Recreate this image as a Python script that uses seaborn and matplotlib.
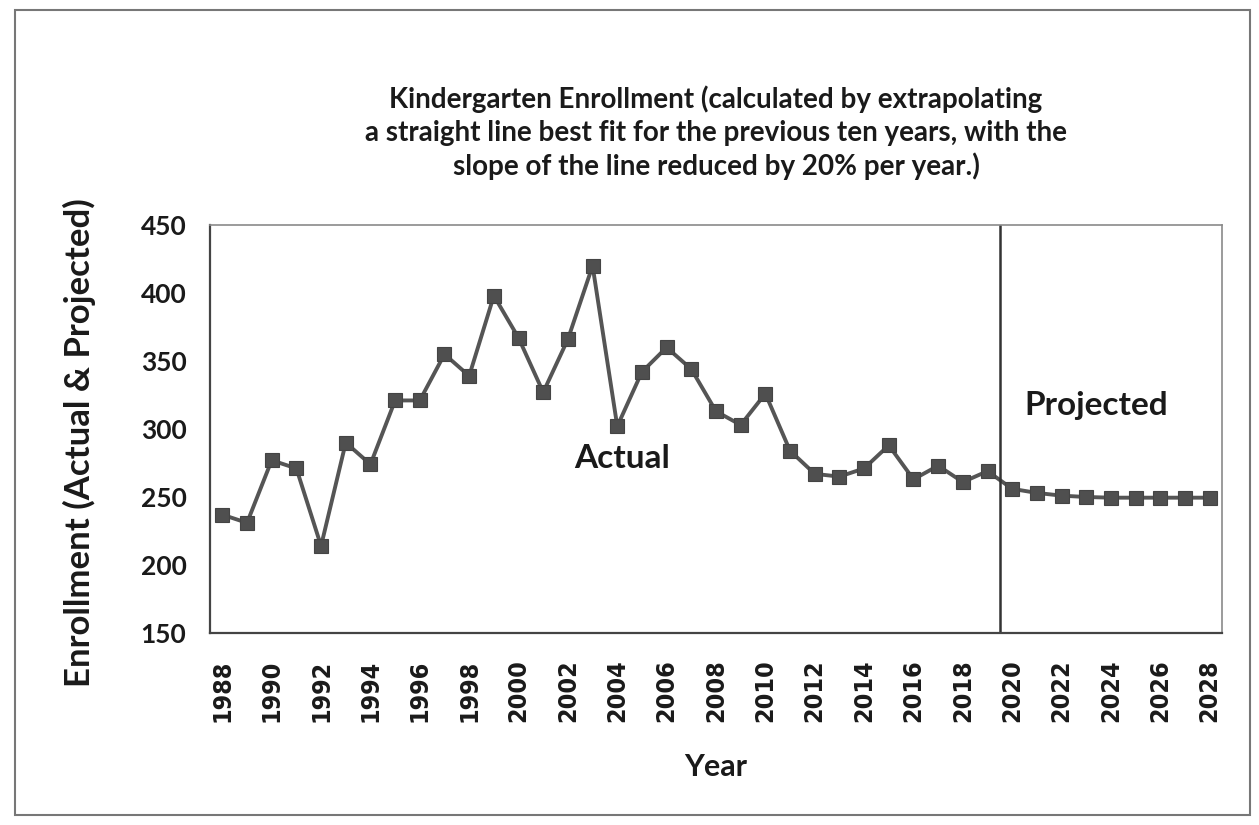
import numpy as np
import pandas as pd
import matplotlib
matplotlib.use("Agg")
import matplotlib.pyplot as plt
import seaborn as sns
from matplotlib.patches import Rectangle
from matplotlib.ticker import FixedLocator, NullFormatter, FixedFormatter

actual_years = list(range(1988, 2020))
actual_values = [237, 231, 277, 271, 214, 290, 274, 321, 321, 355, 339, 398, 367, 327,
                 366, 420, 302, 342, 360, 344, 313, 303, 326, 284, 267, 265, 271, 288,
                 263, 273, 261, 269]
projected_years = list(range(2020, 2029))
projected_values = [256, 253, 251, 250, 249.5, 249.5, 249.5, 249.5, 249.5]

title_text = ("Kindergarten Enrollment (calculated by extrapolating\n"
              "a straight line best fit for the previous ten years, with the\n"
              "slope of the line reduced by 20% per year.)")
x_label = "Year"
y_label = "Enrollment (Actual & Projected)"
y_ticks = [150, 200, 250, 300, 350, 400, 450]
x_tick_labels = [str(y) for y in range(1988, 2029, 2)]

sns.set_style("white")
plt.rcParams['font.family'] = ['Lato', 'DejaVu Sans']

df = pd.DataFrame({
    "Year": actual_years + projected_years,
    "Enrollment": actual_values + projected_values,
})

fig = plt.figure(figsize=(12.59, 8.25), dpi=100)
ax = fig.add_axes([210/1259, 1-633/825, (1222-210)/1259, (633-225)/825])

line_col = "#555555"
sns.lineplot(data=df, x="Year", y="Enrollment", ax=ax, color=line_col, linewidth=2.8,
             marker="s", markersize=10.5, markerfacecolor="#4f4f4f",
             markeredgecolor="#444444", markeredgewidth=0.8)

ax.set_xlim(1987.5, 2028.5)
ax.set_ylim(150, 450)

# y ticks
ax.set_yticks(y_ticks)
ax.set_yticklabels([str(v) for v in y_ticks], fontsize=19, fontweight="bold", color="#1a1a1a")
ax.tick_params(axis="y", which="major", direction="out", length=5, width=1.2, color="#444444", pad=12)

# x ticks: boundaries as major ticks, labels as minor
boundaries = [y - 0.5 for y in range(1988, 2030)]
ax.xaxis.set_major_locator(FixedLocator(boundaries))
ax.xaxis.set_major_formatter(NullFormatter())
label_pos = [int(s) for s in x_tick_labels]
ax.xaxis.set_minor_locator(FixedLocator(label_pos))
ax.xaxis.set_minor_formatter(FixedFormatter(x_tick_labels))
ax.tick_params(axis="x", which="major", direction="out", length=7, width=1.0, color="#555555")
ax.tick_params(axis="x", which="minor", length=0, pad=19)
for lbl in ax.get_xticklabels(minor=True):
    lbl.set_rotation(90)
    lbl.set_fontsize(18)
    lbl.set_fontweight("bold")
    lbl.set_family("DejaVu Sans")
    lbl.set_fontstretch("condensed")
    lbl.set_color("#1a1a1a")

for side in ["left", "bottom"]:
    ax.spines[side].set_color("#444444")
    ax.spines[side].set_linewidth(1.6)
for side in ["top", "right"]:
    ax.spines[side].set_color("#8a8a8a")
    ax.spines[side].set_linewidth(1.2)

# divider between actual and projected
ax.axvline(2019.5, color="#333333", linewidth=1.8)

ax.text(2004.2, 278, "Actual", fontsize=24, fontweight="bold", color="#1a1a1a",
        ha="center", va="center")
ax.text(2023.4, 317, "Projected", fontsize=24, fontweight="bold", color="#1a1a1a",
        ha="center", va="center")

ax.set_xlabel(x_label, fontsize=22, fontweight="bold", color="#1a1a1a", labelpad=22)
ax.set_ylabel(y_label, fontsize=25, fontweight="bold", color="#1a1a1a")
ax.yaxis.set_label_coords(-0.113, 0.466)
ax.set_title(title_text, fontsize=20, fontweight="bold", color="#1a1a1a",
             linespacing=1.3, pad=36)

# outer chart frame
fig.patches.append(Rectangle((15/1259, 1-815/825), (1250-15)/1259, (815-10)/825,
                             transform=fig.transFigure, fill=False,
                             edgecolor="#777777", linewidth=1.5))

fig.savefig("out.png", dpi=100, facecolor="white")
